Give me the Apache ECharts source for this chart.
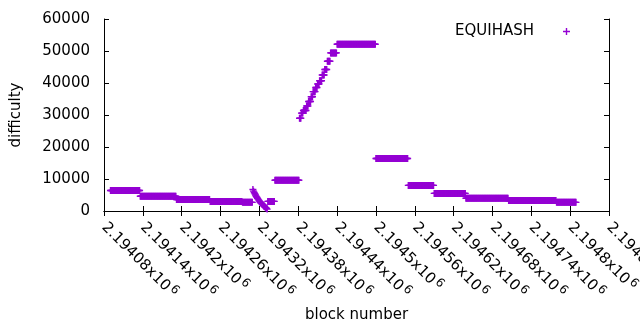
<!DOCTYPE html>
<html>
<head>
<meta charset="utf-8">
<script src="https://cdn.jsdelivr.net/npm/echarts@6/dist/echarts.min.js"></script>
<style>
  html, body { margin: 0; padding: 0; background: #fff; }
  #chart { width: 640px; height: 330px; }
</style>
</head>
<body>
<div id="chart"></div>
<script>
// difficulty runs: blocks runFrom[i]..runTo[i] all share runDifficulty[i]
var runFrom = [2194090, 2194136, 2194192, 2194244, 2194294,
               2194333, 2194344,
               2194382, 2194385, 2194388, 2194393, 2194396, 2194400, 2194403, 2194407,
               2194410, 2194413, 2194417, 2194421, 2194425, 2194430,
               2194440, 2194500, 2194550, 2194590, 2194639, 2194705, 2194779];
var runTo = [2194135, 2194191, 2194243, 2194293, 2194309,
             2194343, 2194381,
             2194384, 2194387, 2194392, 2194395, 2194399, 2194402, 2194406, 2194409,
             2194412, 2194416, 2194420, 2194424, 2194429, 2194439,
             2194499, 2194549, 2194589, 2194638, 2194704, 2194778, 2194809];
var runDifficulty = [6400, 4600, 3600, 3000, 2700,
                     3000, 9600,
                     29000, 30600, 31400, 32800, 34200, 35700, 37300, 38600,
                     39700, 40700, 42500, 44200, 46800, 49400,
                     52100, 16400, 8000, 5500, 4000, 3300, 2700];

// the drop after block 2194309, one value per block
var dropStart = 2194310;
var dropDifficulty = [6700, 6200, 5800, 5400, 5000, 4600, 4300, 4000, 3700, 3400, 3100, 2800,
                      2600, 2400, 2200, 2000, 1800, 1600, 1400, 1200, 1000, 800, 600];

var xTicks = ['2.19408', '2.19414', '2.1942', '2.19426', '2.19432', '2.19438', '2.19444',
              '2.1945', '2.19456', '2.19462', '2.19468', '2.19474', '2.1948', '2.19486'];
var xMin = 2194080, xMax = 2194860, xStep = 60;
var yTicks = [0, 10000, 20000, 30000, 40000, 50000, 60000];

var seriesName = 'EQUIHASH';
var font = 'DejaVu Sans';
var plus = 'path://M0,2.8H2.8V0H4.2V2.8H7V4.2H4.2V7H2.8V4.2H0Z';

var points = [];
for (var i = 0; i < runFrom.length; i++) {
    for (var b = runFrom[i]; b <= runTo[i]; b++) {
        points.push([b, runDifficulty[i]]);
    }
}
for (var k = 0; k < dropDifficulty.length; k++) {
    points.push([dropStart + k, dropDifficulty[k]]);
}

var chart = echarts.init(document.getElementById('chart'), null, {renderer: 'canvas'});

var option = {
    animation: false,
    backgroundColor: '#fff',
    textStyle: {fontFamily: font},
    grid: {left: 104, right: 31, top: 19, bottom: 119, containLabel: false, outerBoundsMode: 'none'},
    legend: {
        data: [{name: seriesName, icon: plus}],
        right: 70, top: 24, padding: 0,
        align: 'right',
        itemWidth: 7, itemHeight: 7,
        textStyle: {fontFamily: font, fontSize: 15, color: '#000', padding: [0, 24, 0, 0]}
    },
    xAxis: [{
        type: 'value', min: xMin, max: xMax, interval: xStep,
        name: 'block number', nameLocation: 'middle', nameGap: 95,
        nameTextStyle: {fontFamily: font, fontSize: 15, color: '#000'},
        axisLine: {show: true, lineStyle: {color: '#000', width: 1}},
        axisTick: {show: true, inside: true, length: 5, lineStyle: {color: '#000'}},
        splitLine: {show: false},
        axisLabel: {
            rotate: -45, margin: 14, interval: 0, showMinLabel: true, showMaxLabel: true,
            hideOverlap: false,
            formatter: function (v) {
                var i = Math.round((v - xMin) / xStep);
                return '{m|' + xTicks[i] + 'x10}{s|6}';
            },
            rich: {
                m: {fontFamily: font, fontSize: 15, color: '#000', lineHeight: 20},
                s: {fontFamily: font, fontSize: 12, color: '#000', verticalAlign: 'top', padding: [0, 0, 0, 2]}
            }
        }
    }, {
        type: 'value', position: 'top', min: xMin, max: xMax, interval: xStep,
        axisLine: {show: true, lineStyle: {color: '#000', width: 1}},
        axisTick: {show: true, inside: true, length: 5, lineStyle: {color: '#000'}},
        axisLabel: {show: false},
        splitLine: {show: false}
    }],
    yAxis: [{
        type: 'value', min: yTicks[0], max: yTicks[yTicks.length - 1], interval: 10000,
        name: 'difficulty', nameLocation: 'middle', nameGap: 80, nameRotate: 90,
        nameTextStyle: {fontFamily: font, fontSize: 15, color: '#000'},
        axisLine: {show: true, lineStyle: {color: '#000', width: 1}},
        axisTick: {show: true, inside: true, length: 5, lineStyle: {color: '#000'}},
        splitLine: {show: false},
        axisLabel: {
            margin: 14, fontFamily: font, fontSize: 15, color: '#000',
            formatter: function (v) { return String(v); }
        }
    }, {
        type: 'value', position: 'right', min: yTicks[0], max: yTicks[yTicks.length - 1], interval: 10000,
        axisLine: {show: true, lineStyle: {color: '#000', width: 1}},
        axisTick: {show: true, inside: true, length: 5, lineStyle: {color: '#000'}},
        axisLabel: {show: false},
        splitLine: {show: false}
    }],
    series: [{
        name: seriesName,
        type: 'scatter',
        xAxisIndex: 0, yAxisIndex: 0,
        symbol: plus,
        symbolSize: 7,
        itemStyle: {color: '#9400d3', opacity: 1},
        data: points
    }]
};

chart.setOption(option);
</script>
</body>
</html>
